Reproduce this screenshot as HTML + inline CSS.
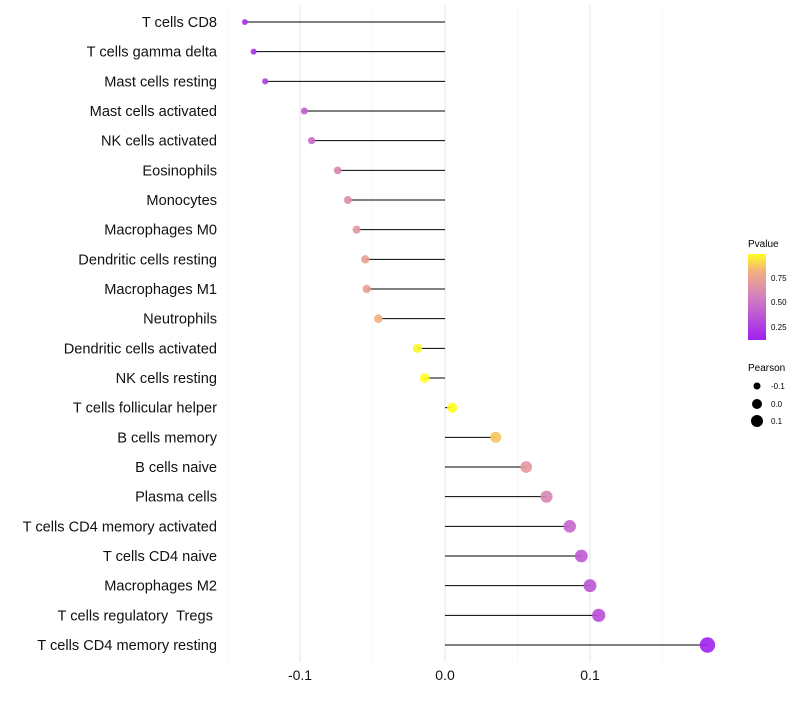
<!DOCTYPE html>
<html><head><meta charset="utf-8"><style>
body{margin:0;background:#fff;}
svg text{font-family:"Liberation Sans",sans-serif;white-space:pre;}
</style></head><body>
<svg id="chart" width="800" height="700" xmlns="http://www.w3.org/2000/svg">
<defs><linearGradient id="pg" x1="0" y1="1" x2="0" y2="0">
<stop offset="0" stop-color="#A020F0"/><stop offset="0.5" stop-color="#D27FC0"/><stop offset="0.8" stop-color="#F2B07E"/><stop offset="1" stop-color="#FFFF20"/></linearGradient></defs>
<g id="grid"></g><g id="marks"></g><g id="labels"></g>
<g>
<text x="748" y="247" font-size="10">Pvalue</text>
<rect x="748" y="254" width="18" height="86" fill="url(#pg)"/>
<text x="771" y="281" font-size="8">0.75</text>
<text x="771" y="305" font-size="8">0.50</text>
<text x="771" y="330" font-size="8">0.25</text>
<text x="748" y="371" font-size="10">Pearson</text>
<circle cx="757" cy="386" r="3.5" fill="#000"/>
<text x="771" y="389" font-size="8">-0.1</text>
<circle cx="757" cy="404" r="5" fill="#000"/>
<text x="771" y="407" font-size="8">0.0</text>
<circle cx="757" cy="421" r="6" fill="#000"/>
<text x="771" y="424" font-size="8">0.1</text>
</g>
</svg>
<script>
const categories=["T cells CD8","T cells gamma delta","Mast cells resting","Mast cells activated","NK cells activated","Eosinophils","Monocytes","Macrophages M0","Dendritic cells resting","Macrophages M1","Neutrophils","Dendritic cells activated","NK cells resting","T cells follicular helper","B cells memory","B cells naive","Plasma cells","T cells CD4 memory activated","T cells CD4 naive","Macrophages M2","T cells regulatory  Tregs ","T cells CD4 memory resting"];
const pearson=[-0.138,-0.132,-0.124,-0.097,-0.092,-0.074,-0.067,-0.061,-0.055,-0.054,-0.046,-0.019,-0.014,0.005,0.035,0.056,0.070,0.086,0.094,0.100,0.106,0.181];
const pvalue=[0.10,0.14,0.2,0.35,0.4,0.55,0.6,0.65,0.7,0.7,0.8,0.95,0.97,0.99,0.85,0.65,0.55,0.38,0.32,0.3,0.27,0.06];
const xTicks=[-0.1,0.0,0.1];
const xTickLabels=["-0.1","0.0","0.1"];
const NS="http://www.w3.org/2000/svg";
const xs=v=>445+v*1450;
const ys=i=>22+i*(623/21);
const rs=v=>5+15*v;
const stops=[[0.05,[160,32,240]],[0.5,[210,127,192]],[0.8,[242,176,126]],[0.97,[255,255,32]]];
function col(p){if(p<=stops[0][0])return "rgb("+stops[0][1]+")";for(let k=1;k<stops.length;k++){if(p<=stops[k][0]){const a=stops[k-1],b=stops[k],t=(p-a[0])/(b[0]-a[0]);return "rgb("+a[1].map((c,j)=>Math.round(c+(b[1][j]-c)*t)).join(",")+")";}}return "rgb("+stops[3][1]+")";}
function mk(tag,attrs,parent){const e=document.createElementNS(NS,tag);for(const k in attrs)e.setAttribute(k,attrs[k]);parent.appendChild(e);return e;}
const grid=document.getElementById('grid'),marks=document.getElementById('marks'),labels=document.getElementById('labels');
[-0.15,-0.05,0.05,0.15].forEach(v=>{const l=mk('line',{x1:xs(v),x2:xs(v),y1:5,y2:662,stroke:'#f0f0f0','stroke-width':0.6},grid);

});
xTicks.forEach((v,i)=>{const l=mk('line',{x1:xs(v),x2:xs(v),y1:5,y2:662,stroke:'#e6e6e6','stroke-width':1},grid);


const t=mk('text',{x:xs(v),y:680,'font-size':14,'text-anchor':'middle',fill:'#111'},labels);t.textContent=xTickLabels[i];

});
categories.forEach((c,i)=>{const y=ys(i);
const s=mk('line',{x1:xs(0),x2:xs(pearson[i]),y1:y,y2:y,stroke:'#000','stroke-width':1},marks);


const p=mk('circle',{cx:xs(pearson[i]),cy:y,r:rs(pearson[i]),fill:col(pvalue[i]),'fill-opacity':0.9},marks);


const t=mk('text',{x:217,y:y+5,'font-size':14.6,'text-anchor':'end',fill:'#111','xml:space':'preserve'},labels);t.textContent=c;

});
</script>
</body></html>
